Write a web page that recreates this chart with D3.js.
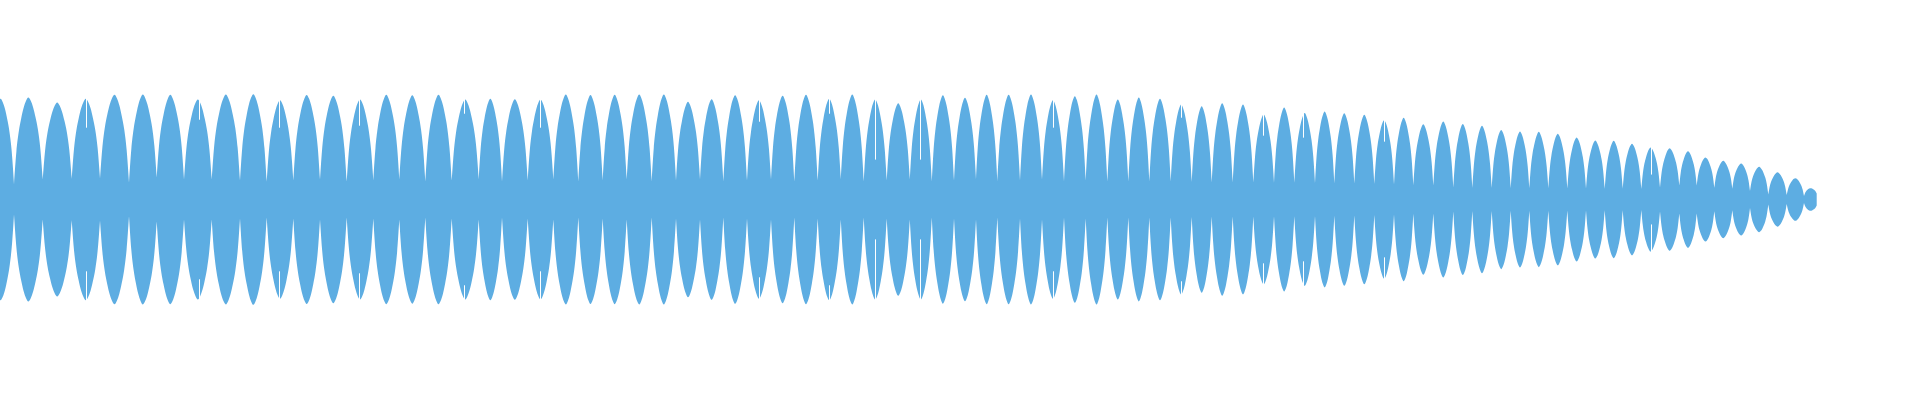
<!DOCTYPE html>
<html>
<head>
<meta charset="utf-8">
<script src="https://cdn.jsdelivr.net/npm/d3@7"></script>
<style>
  body { margin: 0; background: #fff; }
  svg { display: block; }
</style>
</head>
<body>
<div id="waveform"></div>
<script>
// time (ms) where each beat lobe starts/ends
const boundaries = [
  -13, 14, 42.7, 71.7, 100, 129, 156.7, 184, 211.7, 240,
  266.7, 293.3, 320, 346.7, 373.3, 399.3, 425.3, 451.7, 478.7, 502,
  527.7, 553.3, 578.3, 602.7, 626.7, 651.7, 676, 700, 723.3, 747,
  771, 794.3, 817.7, 840.8, 863.7, 886.7, 909.8, 931.8, 954, 976,
  997.3, 1020, 1042, 1064, 1085.7, 1107.3, 1128.3, 1149.3, 1170.7, 1191.7,
  1211.7, 1232.7, 1253.3, 1274, 1294.3, 1315, 1334.3, 1354.3, 1374.3, 1394,
  1413.3, 1433.3, 1453.3, 1472.3, 1491.7, 1510.7, 1529.3, 1548.3, 1567.3, 1586,
  1604.7, 1622.7, 1641.3, 1660, 1679.3, 1696.7, 1714.3, 1732.3, 1750, 1768.3,
  1786.7, 1804, 1816.7
]

// peak amplitude of each lobe (full scale = 1)
const peaks = [
  0.505, 0.511, 0.486, 0.505, 0.525, 0.526, 0.525, 0.501, 0.526,
  0.528, 0.497, 0.524, 0.520, 0.501, 0.525, 0.522, 0.525, 0.501,
  0.505, 0.503, 0.501, 0.526, 0.524, 0.525, 0.526, 0.526, 0.490, 0.503,
  0.523, 0.497, 0.520, 0.525, 0.505, 0.526, 0.501, 0.483, 0.501, 0.522,
  0.510, 0.525, 0.525, 0.526, 0.497, 0.518, 0.526, 0.501, 0.511, 0.505, 0.476,
  0.468, 0.482, 0.476, 0.426, 0.461, 0.433, 0.441, 0.432, 0.425, 0.397, 0.410, 0.377,
  0.391, 0.379, 0.370, 0.349, 0.341, 0.339, 0.330, 0.311, 0.296, 0.294, 0.280, 0.261, 0.257,
  0.242, 0.211, 0.194, 0.181, 0.164, 0.136, 0.107, 0.057
]

// amplitude left between lobes
const floors = [
  0.09, 0.075, 0.1, 0.104, 0.105, 0.084, 0.11, 0.1, 0.1, 0.095,
  0.09, 0.095, 0.1, 0.09, 0.095, 0.1, 0.09, 0.095, 0.1, 0.09,
  0.095, 0.1, 0.09, 0.095, 0.1, 0.09, 0.095, 0.1, 0.09, 0.095,
  0.1, 0.09, 0.095, 0.1, 0.09, 0.095, 0.1, 0.09, 0.095, 0.1,
  0.09, 0.095, 0.1, 0.09, 0.095, 0.09, 0.09, 0.09, 0.09, 0.088,
  0.085, 0.085, 0.085, 0.084, 0.084, 0.083, 0.082, 0.08, 0.078, 0.075,
  0.072, 0.07, 0.06, 0.058, 0.058, 0.057, 0.056, 0.056, 0.055, 0.055,
  0.054, 0.054, 0.053, 0.06, 0.07, 0.07, 0.059, 0.054, 0.042, 0.025,
  0.022, 0.017, 0.03
]

// rise of one lobe from valley to peak and back, read from a single lobe
const lobeProfile = [0, 0.38, 0.61, 0.76, 0.88, 0.96, 1, 0.96, 0.88, 0.76, 0.61, 0.38, 0]

// columns where the signal briefly drops inside a lobe (time, amplitude)
const dropTimes = [86, 199, 279.3, 359.3, 464, 540, 759.3, 829.3, 875, 920, 1053.3, 1180.7, 1263.3, 1303.3, 1384.3, 1650.7]
const dropLevels = [0.36, 0.4, 0.36, 0.37, 0.43, 0.36, 0.39, 0.43, 0.2, 0.2, 0.36, 0.41, 0.32, 0.31, 0.29, 0.125]

const width = 1920
const height = 400

const svg = d3
  .select('#waveform')
  .append('svg')
  .attr('width', width)
  .attr('height', height)

const xPositionScale = d3.scaleLinear().domain([0, 1920]).range([0, width])
const yPositionScale = d3.scaleLinear().domain([-1, 1]).range([399, 0])

const area = d3
  .area()
  .x(d => xPositionScale(d.t))
  .y0(d => yPositionScale(-d.a))
  .y1(d => yPositionScale(d.a))
  .curve(d3.curveMonotoneX)

// one little area per lobe so the valleys stay pinched
const steps = lobeProfile.length - 1
const lobes = peaks.map((p, i) => {
  const t0 = boundaries[i]
  const t1 = boundaries[i + 1]
  return lobeProfile.map((f, k) => {
    const base = k <= steps / 2 ? floors[i] : floors[i + 1]
    return { t: t0 + (t1 - t0) * k / steps, a: base + (p - base) * f }
  })
})

svg
  .append('path')
  .attr('class', 'wave')
  .attr('d', lobes.map(area).join(''))
  .attr('fill', '#5dade2')

// thin white slits where a column dips
const drops = dropTimes.map((t, i) => ({ t: t, a: dropLevels[i] }))

svg
  .selectAll('.drop-top')
  .data(drops)
  .enter()
  .append('rect')
  .attr('class', 'drop-top')
  .attr('x', d => Math.round(xPositionScale(d.t)))
  .attr('y', yPositionScale(1))
  .attr('width', 1)
  .attr('height', d => yPositionScale(d.a) - yPositionScale(1))
  .attr('fill', '#fff')

svg
  .selectAll('.drop-bottom')
  .data(drops)
  .enter()
  .append('rect')
  .attr('class', 'drop-bottom')
  .attr('x', d => Math.round(xPositionScale(d.t)))
  .attr('y', d => yPositionScale(-d.a))
  .attr('width', 1)
  .attr('height', d => yPositionScale(-1) - yPositionScale(-d.a))
  .attr('fill', '#fff')
</script>
</body>
</html>
